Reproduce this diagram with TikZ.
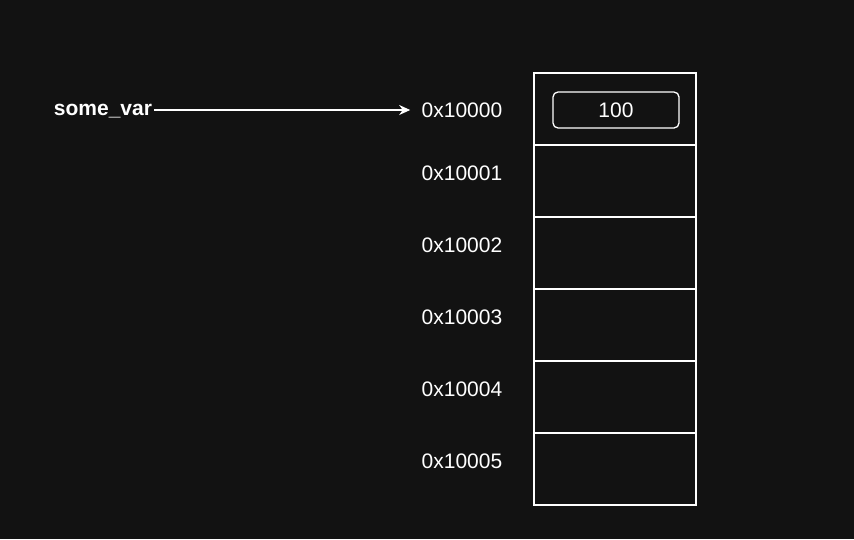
\documentclass[tikz,border=0pt]{standalone}
\usepackage{fontspec}
\setmainfont{Liberation Sans}
\usetikzlibrary{arrows.meta}
\definecolor{bg}{HTML}{121212}
\tikzset{
  cell/.style={draw=white, line width=1.3pt, minimum width=162pt, minimum height=72pt, inner sep=0pt},
  addr/.style={text=white, font=\fontsize{21}{24}\selectfont}
}
\begin{document}
\begin{tikzpicture}[x=1pt,y=-1pt]
\fill[bg] (0,0) rectangle (854,539);
\useasboundingbox (0,0) rectangle (854,539);
\node[cell] (c0) at (615,109) {};
\node[cell] (c1) at (615,181) {};
\node[cell] (c2) at (615,253) {};
\node[cell] (c3) at (615,325) {};
\node[cell] (c4) at (615,397) {};
\node[cell] (c5) at (615,469) {};
\node[draw=white, line width=1.3pt, rounded corners=5pt, minimum width=126pt, minimum height=36pt, addr] (val) at (616,110) {100};
\node[addr] (a0) at (462,110) {0x10000};
\node[addr] (a1) at (462,173) {0x10001};
\node[addr] (a2) at (462,245) {0x10002};
\node[addr] (a3) at (462,317) {0x10003};
\node[addr] (a4) at (462,389) {0x10004};
\node[addr] (a5) at (462,461) {0x10005};
\node[addr, font=\fontsize{21}{24}\selectfont\bfseries, inner sep=2pt] (var) at (103,111) {some\_var};
\draw[white, line width=1.3pt, -{Stealth[length=11pt,width=10pt]}] (var.east |- a0) -- ([xshift=-8pt]a0.west);
\end{tikzpicture}
\end{document}
